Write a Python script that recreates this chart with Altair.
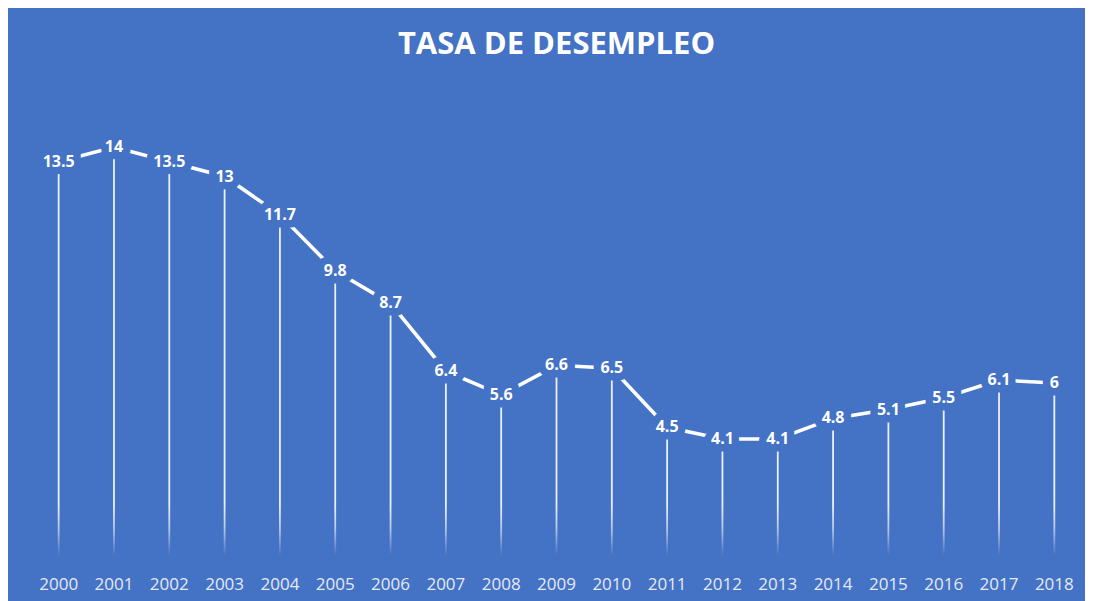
import altair as alt
import pandas as pd

years = [str(y) for y in range(2000, 2019)]
rates = [13.5, 14, 13.5, 13, 11.7, 9.8, 8.7, 6.4, 5.6, 6.6, 6.5, 4.5, 4.1, 4.1, 4.8, 5.1, 5.5, 6.1, 6]

BLUE = "#4472C4"
FADE = 1.9

df = pd.DataFrame({"year": years, "rate": rates})

x = alt.X(
    "year:O",
    title=None,
    scale=alt.Scale(type="band", paddingInner=0, paddingOuter=0),
    axis=alt.Axis(
        labelAngle=0, domain=False, ticks=False, grid=False,
        labelFont="Open Sans", labelFontSize=17, labelColor="#E4EAF6",
        labelPadding=16,
    ),
)
yscale = alt.Scale(domain=[0, 16], nice=False, zero=True)
y = alt.Y("rate:Q", title=None, scale=yscale, axis=None)

base = alt.Chart(df).transform_calculate(fade=str(FADE), floor="0")

drop_top = base.mark_rule(color="white", strokeWidth=1.8, opacity=0.9).encode(
    x=x, y=y, y2="fade:Q"
)
drop_fade = base.mark_bar(
    width=1.8,
    color=alt.Gradient(
        gradient="linear",
        stops=[
            alt.GradientStop(color="#ECF1F9", offset=0),
            alt.GradientStop(color="#B4C6E7", offset=0.45),
            alt.GradientStop(color=BLUE, offset=0.92),
        ],
        x1=0, x2=0, y1=0, y2=1,
    ),
).encode(x=x, y=alt.Y("fade:Q", scale=yscale, axis=None, title=None), y2="floor:Q")

line = base.mark_line(color="white", strokeWidth=3.6).encode(x=x, y=y)

halo = base.mark_text(
    font="Open Sans", fontSize=16, fontWeight="bold", baseline="middle",
    fill=BLUE, stroke=BLUE, strokeWidth=15, strokeJoin="round",
).encode(x=x, y=y, text=alt.Text("rate:Q"))

labels = base.mark_text(
    font="Open Sans", fontSize=16, fontWeight="bold", baseline="middle", color="white",
).encode(x=x, y=y, text=alt.Text("rate:Q"))

chart = alt.layer(drop_top, drop_fade, line, halo, labels).properties(
    width=1051,
    height=472,
    padding={"left": 23, "right": 3, "top": 80, "bottom": 41},
    autosize=alt.AutoSizeParams(type="none"),
    background=BLUE,
    title=alt.TitleParams(
        "TASA DE DESEMPLEO", font="Open Sans", fontSize=31, fontWeight="bold",
        color="white", anchor="middle", offset=27,
    ),
).configure_view(stroke=None)

chart.save("out.html", embed_options={"renderer": "svg", "actions": False})
